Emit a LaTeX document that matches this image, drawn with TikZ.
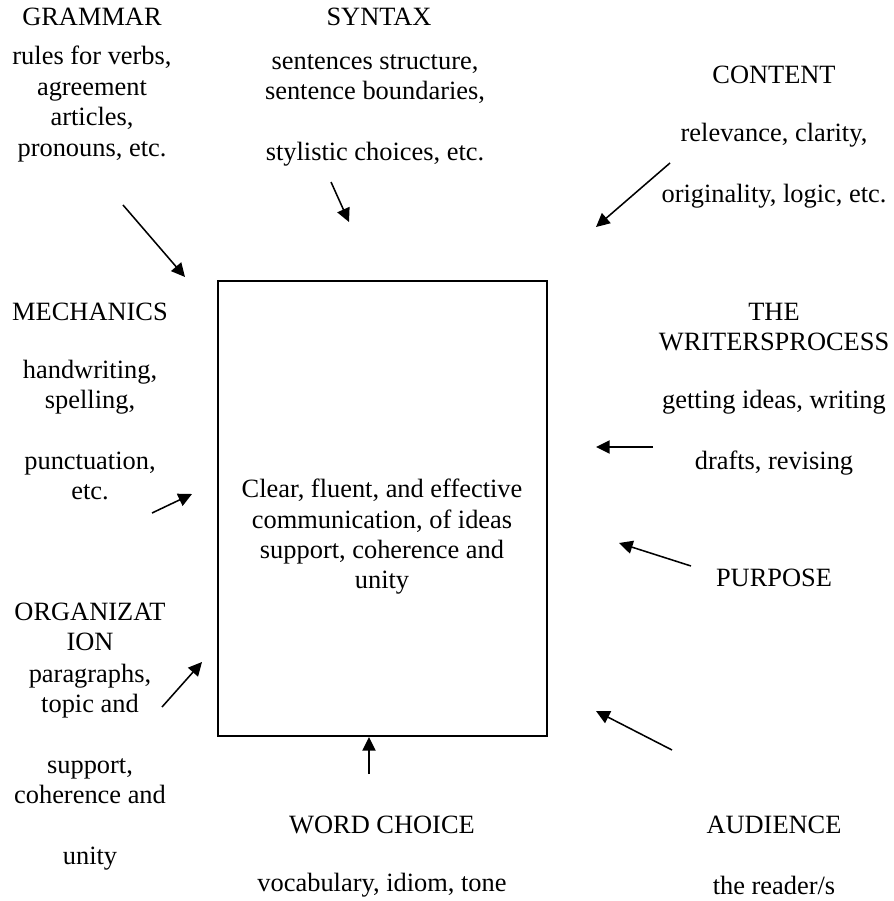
\documentclass[tikz,border=0pt]{standalone}
\usepackage{fontspec}
\setmainfont{Liberation Serif}
\usetikzlibrary{arrows.meta}

\begin{document}
\begin{tikzpicture}[x=0.4545pt, y=-0.4545pt,
    txt/.style={align=center, inner sep=0pt, font=\fontsize{12}{13.8}\selectfont},
    feed/.style={-{Triangle[length=6.2pt,width=6pt]}, line width=0.7pt}]
    \useasboundingbox (0,0) rectangle (893,901);

    % central box
    \node[draw, line width=0.9pt, minimum width=149.5pt, minimum height=206.8pt, inner sep=0pt] (core) at (382.5,508.5) {};
    \node[txt] (idea) at (382,537) {Clear, fluent, and effective\\ communication, of ideas\\ support, coherence and\\ unity};

    % left column
    \node[txt] (grammar) at (92,17) {GRAMMAR};
    \node[txt] (grammardesc) at (92,104) {rules for verbs,\\ agreement\\ articles,\\ pronouns, etc.};
    \node[txt] (mechanics) at (90,312) {MECHANICS};
    \node[txt] (mechanicsdesc) at (90,430) {handwriting,\\ spelling,\\[13.8pt] punctuation,\\ etc.};
    \node[txt] (organization) at (90,627) {ORGANIZAT\\ ION};
    \node[txt] (organizationdesc) at (90,767) {paragraphs,\\ topic and\\[13.8pt] support,\\ coherence and\\[13.8pt] unity};

    % middle column
    \node[txt] (syntax) at (379,17) {SYNTAX};
    \node[txt] (syntaxdesc) at (375,110) {sentences structure,\\ sentence boundaries,\\[13.8pt] stylistic choices, etc.};
    \node[txt] (wordchoice) at (382,825) {WORD CHOICE};
    \node[txt] (wordchoicedesc) at (382,885) {vocabulary, idiom, tone};

    % right column
    \node[txt] (content) at (774,75) {CONTENT};
    \node[txt] (contentdesc) at (774,166) {relevance, clarity,\\[13.8pt] originality, logic, etc.};
    \node[txt] (process) at (774,327) {THE\\ WRITERSPROCESS};
    \node[txt] (processdesc) at (774,433) {getting ideas, writing\\[13.8pt] drafts, revising};
    \node[txt] (purpose) at (774,578) {PURPOSE};
    \node[txt] (audience) at (774,825) {AUDIENCE};
    \node[txt] (audiencedesc) at (774,885) {the reader/s};

    % arrow ends
    \coordinate (grammar-tail) at (123,205);  \coordinate (grammar-tip) at (185,277);
    \coordinate (syntax-tail) at (331,182);   \coordinate (syntax-tip) at (349,222);
    \coordinate (content-tail) at (670,163);  \coordinate (content-tip) at (596,227);
    \coordinate (mechanics-tail) at (152,513);\coordinate (mechanics-tip) at (192,494);
    \coordinate (process-tail) at (653,447);  \coordinate (process-tip) at (596,447);
    \coordinate (purpose-tail) at (691,566);  \coordinate (purpose-tip) at (619,543);
    \coordinate (organization-tail) at (162,707); \coordinate (organization-tip) at (202,662);
    \coordinate (wordchoice-tail) at (369,774);
    \coordinate (audience-tail) at (672,750); \coordinate (audience-tip) at (596,711);

    \draw[feed] (grammar-tail) -- (grammar-tip);
    \draw[feed] (syntax-tail) -- (syntax-tip);
    \draw[feed] (content-tail) -- (content-tip);
    \draw[feed] (mechanics-tail) -- (mechanics-tip);
    \draw[feed] (process-tail) -- (process-tip);
    \draw[feed] (purpose-tail) -- (purpose-tip);
    \draw[feed] (organization-tail) -- (organization-tip);
    \draw[feed] (wordchoice-tail) -- (wordchoice-tail |- core.south);
    \draw[feed] (audience-tail) -- (audience-tip);

\end{tikzpicture}
\end{document}
